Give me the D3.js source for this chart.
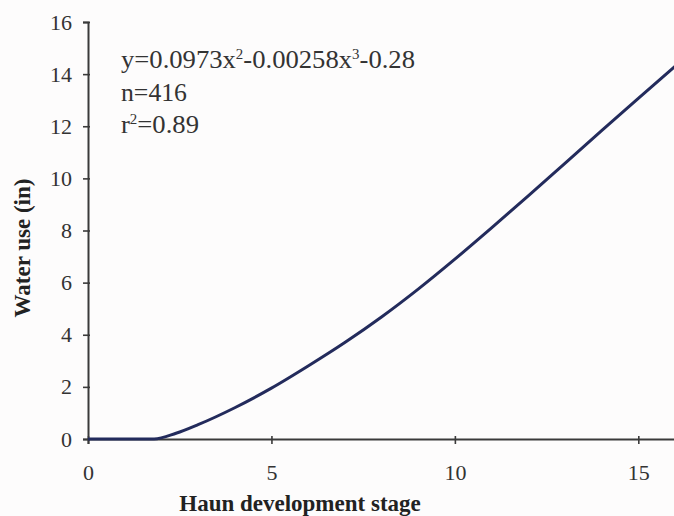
<!DOCTYPE html>
<html>
<head>
<meta charset="utf-8">
<script src="https://cdn.jsdelivr.net/npm/d3@7.9.0/dist/d3.min.js"></script>
<style>
  body { margin: 0; background: #fdfcfc; }
  svg { display: block; }
</style>
</head>
<body>
<svg id="chart" width="674" height="516"></svg>
<script>
// === Data ===
const stage = [0, 1, 1.8, 2.4, 3, 4, 5, 6, 7, 8, 9, 10, 11, 12, 13, 14, 15, 16];
const waterUse = [0, 0, 0, 0.22, 0.55, 1.2, 1.95, 2.8, 3.7, 4.68, 5.75, 6.9, 8.1, 9.33, 10.58, 11.83, 13.07, 14.3];
const xTicks = [0, 5, 10, 15];
const yTicks = [0, 2, 4, 6, 8, 10, 12, 14, 16];
const notes = ['n=416'];

const SERIF = '"Liberation Serif", "Times New Roman", "DejaVu Serif", serif';
const svg = d3.select('#chart').attr('font-family', SERIF);

// plot area
const x = d3.scaleLinear().domain([0, 16]).range([88, 675]);
const y = d3.scaleLinear().domain([0, 16]).range([439, 22]);

// === Axes ===
const xAxis = svg.append('g')
  .attr('transform', `translate(0,${y(0)})`)
  .call(d3.axisBottom(x).tickValues(xTicks).tickSize(5).tickPadding(20));

const yAxis = svg.append('g')
  .attr('transform', `translate(${x(0)},0)`)
  .call(d3.axisLeft(y).tickValues(yTicks).tickSize(5).tickPadding(11));

[xAxis, yAxis].forEach(g => {
  g.attr('font-family', SERIF).attr('font-size', 22);
  g.select('.domain').attr('stroke', '#3a3a3a').attr('stroke-width', 2);
  g.selectAll('.tick line').attr('stroke', '#3a3a3a').attr('stroke-width', 1.6);
  g.selectAll('.tick text').attr('fill', '#333');
});
// ticks cross the axis slightly
xAxis.selectAll('.tick line').attr('y1', -3);
yAxis.selectAll('.tick line').attr('x1', 2);

// === Curve ===
const line = d3.line()
  .x((d, i) => x(stage[i]))
  .y(d => y(d))
  .curve(d3.curveMonotoneX);

svg.append('path')
  .datum(waterUse)
  .attr('d', line)
  .attr('fill', 'none')
  .attr('stroke', '#232b5c')
  .attr('stroke-width', 3)
  .attr('stroke-linejoin', 'round');

// === Axis titles ===
svg.append('text')
  .attr('x', 300)
  .attr('y', 511)
  .attr('text-anchor', 'middle')
  .attr('font-weight', 'bold')
  .attr('font-size', 23)
  .attr('fill', '#222')
  .text('Haun development stage');

svg.append('text')
  .attr('transform', 'translate(30,248) rotate(-90)')
  .attr('text-anchor', 'middle')
  .attr('font-weight', 'bold')
  .attr('font-size', 23)
  .attr('fill', '#222')
  .text('Water use (in)');

// === Equation annotation ===
const ann = svg.append('g').attr('fill', '#333').attr('font-size', 25);

const eq = ann.append('text').attr('x', 121).attr('y', 68)
  .attr('textLength', 294).attr('lengthAdjust', 'spacingAndGlyphs');
eq.append('tspan').text('y=0.0973x');
eq.append('tspan').attr('dy', -9).attr('font-size', 14).text('2');
eq.append('tspan').attr('dy', 9).text('-0.00258x');
eq.append('tspan').attr('dy', -9).attr('font-size', 14).text('3');
eq.append('tspan').attr('dy', 9).text('-0.28');

ann.append('text').attr('x', 121).attr('y', 101)
  .attr('textLength', 66).attr('lengthAdjust', 'spacingAndGlyphs')
  .text(notes[0]);

const r2 = ann.append('text').attr('x', 121).attr('y', 133)
  .attr('textLength', 78).attr('lengthAdjust', 'spacingAndGlyphs');
r2.append('tspan').text('r');
r2.append('tspan').attr('dy', -9).attr('font-size', 14).text('2');
r2.append('tspan').attr('dy', 9).text('=0.89');
</script>
</body>
</html>
